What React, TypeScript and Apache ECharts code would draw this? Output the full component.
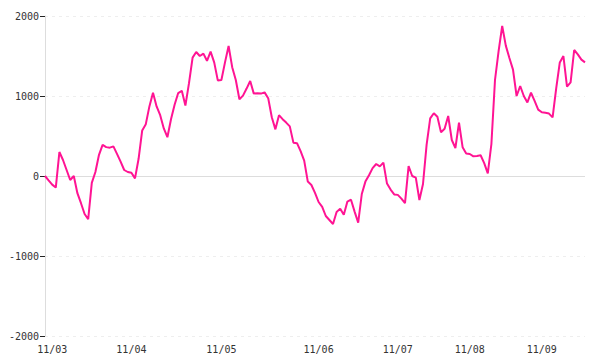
import React, { useEffect, useRef } from "react";
import * as echarts from "echarts";

// Day labels and how many data points each day holds
const dayLabels = ["11/02", "11/03", "11/04", "11/05", "11/06", "11/07", "11/08", "11/09"];
const dayCounts = [2, 22, 25, 27, 22, 20, 20, 13];

// Series values
const values = [
  0, -55, -108, -145, 300, 200, 75, -50, 0, -215,
  -340, -475, -540, -86, 50, 265, 390, 361, 354, 370,
  277, 180, 75, 50, 40, -30, 215, 570, 648, 870,
  1040, 870, 760, 595, 485, 710, 890, 1037, 1065, 880,
  1160, 1480, 1550, 1500, 1530, 1440, 1555, 1420, 1195, 1200,
  1420, 1625, 1360, 1200, 960, 1005, 1093, 1187, 1030, 1035,
  1030, 1045, 973, 735, 583, 760, 710, 668, 620, 417,
  410, 310, 192, -70, -112, -210, -325, -385, -500, -550,
  -600, -450, -408, -485, -320, -296, -445, -583, -225, -70,
  10, 98, 150, 120, 167, -95, -170, -230, -236, -283,
  -340, 125, 0, -20, -300, -100, 390, 720, 785, 740,
  545, 590, 750, 450, 350, 666, 360, 280, 275, 246,
  250, 259, 160, 33, 400, 1200, 1560, 1875, 1630, 1475,
  1330, 1000, 1125, 1000, 920, 1041, 940, 830, 796, 790,
  780, 733, 1095, 1420, 1500, 1116, 1170, 1575, 1520, 1455,
  1420,
];

// Y axis ticks
const yMin = -2000;
const yMax = 2000;
const yStep = 1000;

const categories: string[] = [];
dayLabels.forEach((d, i) => {
  for (let k = 0; k < dayCounts[i]; k++) categories.push(d);
});

export default function App() {
  const ref = useRef<HTMLDivElement>(null);

  useEffect(() => {
    document.body.style.margin = "0";
    if (!ref.current) return;
    const chart = echarts.init(ref.current, undefined, { renderer: "svg" });
    const font = "DejaVu Sans Mono";
    chart.setOption({
      animation: false,
      backgroundColor: "#fff",
      grid: { left: 45, right: 15, top: 16, bottom: 24, containLabel: false },
      xAxis: {
        type: "category",
        data: categories,
        boundaryGap: false,
        axisLine: { show: false, onZero: false },
        axisTick: { show: false },
        splitLine: { show: false },
        axisLabel: {
          color: "#333",
          fontFamily: font,
          fontSize: 10,
          margin: 8,
          interval: (idx: number) => idx > 0 && categories[idx] !== categories[idx - 1],
        },
      },
      yAxis: {
        type: "value",
        min: yMin,
        max: yMax,
        interval: yStep,
        axisLine: { show: true, lineStyle: { color: "#ddd", width: 1 } },
        axisTick: { show: true, length: 5, lineStyle: { color: "#222", width: 1 } },
        axisLabel: {
          color: "#333",
          fontFamily: font,
          fontSize: 10,
          margin: 6,
          formatter: (v: number) => String(v),
        },
        splitLine: { show: true, lineStyle: { color: "#eee", type: [3, 4], width: 1 } },
      },
      series: [
        {
          type: "line",
          data: values,
          symbol: "none",
          lineStyle: { color: "#ff1493", width: 2 },
          itemStyle: { color: "#ff1493" },
          markLine: {
            silent: true,
            symbol: "none",
            label: { show: false },
            lineStyle: { color: "#ddd", type: "solid", width: 1 },
            data: [{ yAxis: 0 }],
            z: 1,
          },
        },
      ],
    });
    return () => chart.dispose();
  }, []);

  return <div ref={ref} style={{ width: 600, height: 360 }} />;
}
